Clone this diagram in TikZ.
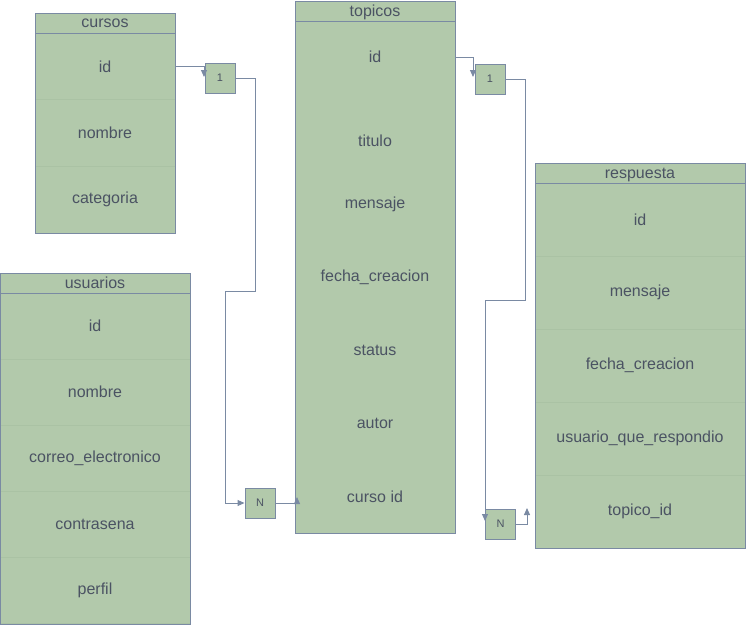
\documentclass[tikz,border=0pt]{standalone}
\usepackage{fontspec}
\setmainfont{Liberation Sans}
\usetikzlibrary{arrows.meta}

\definecolor{tblfill}{HTML}{B2C9AB}
\definecolor{tblline}{HTML}{7A8AA3}
\definecolor{tblsep}{HTML}{AAC2A4}
\definecolor{tbltext}{HTML}{4B5363}

\tikzset{
  header/.style={rectangle, draw=tblline, fill=tblfill, text=tbltext, inner sep=0pt, minimum height=20pt, text depth=-2pt},
  field/.style={rectangle, draw=tblsep, fill=tblfill, text=tbltext, inner sep=0pt},
  plain/.style={rectangle, text=tbltext, inner sep=0pt},
  border/.style={rectangle, draw=tblline, inner sep=0pt},
  card/.style={rectangle, draw=tblline, fill=tblfill, text=tbltext, inner sep=0pt, minimum size=30pt, font=\fontsize{11}{13}\selectfont},
  conn/.style={draw=tblline, line width=1pt, -{Triangle[length=7pt, width=6pt]}}
}

\begin{document}
\begin{tikzpicture}[x=1pt, y=-1pt, font=\fontsize{16}{19}\selectfont, line width=1pt]
    \useasboundingbox (0, 0) rectangle (746, 624);

    % cursos
    \fill[tblfill] (35, 13) rectangle (175, 233);
    \node[field, minimum width=140pt, minimum height=66.67pt] (cursos-id) at (105, 66.3) {id};
    \node[field, minimum width=140pt, minimum height=66.67pt] (cursos-nombre) at (105, 133) {nombre};
    \node[field, minimum width=140pt, minimum height=66.67pt] (cursos-categoria) at (105, 199.7) {categoria};
    \node[border, minimum width=140pt, minimum height=220pt] (cursos) at (105, 123) {};
    \node[header, minimum width=140pt] (cursos-head) at (105, 23) {cursos};

    % usuarios
    \fill[tblfill] (0, 273) rectangle (190, 624);
    \node[field, minimum width=190pt, minimum height=66pt] (usuarios-id) at (95, 326) {id};
    \node[field, minimum width=190pt, minimum height=66pt] (usuarios-nombre) at (95, 392) {nombre};
    \node[field, minimum width=190pt, minimum height=66pt] (usuarios-correo) at (95, 458) {correo\_electronico};
    \node[field, minimum width=190pt, minimum height=66pt] (usuarios-contrasena) at (95, 524) {contrasena};
    \node[field, minimum width=190pt, minimum height=66pt] (usuarios-perfil) at (95, 590) {perfil};
    \node[border, minimum width=190pt, minimum height=351pt] (usuarios) at (95, 448.5) {};
    \node[header, minimum width=190pt] (usuarios-head) at (95, 283) {usuarios};

    % topicos
    \node[border, fill=tblfill, minimum width=160pt, minimum height=532pt] (topicos) at (375, 267) {};
    \node[header, minimum width=160pt] (topicos-head) at (375, 11) {topicos};
    \node[plain] (topicos-id) at (375, 57) {id};
    \node[plain] (topicos-titulo) at (375, 141) {titulo};
    \node[plain] (topicos-mensaje) at (375, 204) {mensaje};
    \node[plain] (topicos-fecha) at (375, 277) {fecha\_creacion};
    \node[plain] (topicos-status) at (375, 350) {status};
    \node[plain] (topicos-autor) at (375, 423) {autor};
    \node[plain] (topicos-curso) at (375, 497) {curso id};

    % respuesta
    \fill[tblfill] (535, 163) rectangle (745, 548);
    \node[field, minimum width=210pt, minimum height=73pt] (respuesta-id) at (640, 219.5) {id};
    \node[field, minimum width=210pt, minimum height=73pt] (respuesta-mensaje) at (640, 292.5) {mensaje};
    \node[field, minimum width=210pt, minimum height=73pt] (respuesta-fecha) at (640, 365.5) {fecha\_creacion};
    \node[field, minimum width=210pt, minimum height=73pt] (respuesta-usuario) at (640, 438.5) {usuario\_que\_respondio};
    \node[field, minimum width=210pt, minimum height=73pt] (respuesta-topico) at (640, 511.5) {topico\_id};
    \node[border, minimum width=210pt, minimum height=385pt] (respuesta) at (640, 355.5) {};
    \node[header, minimum width=210pt] (respuesta-head) at (640, 173) {respuesta};

    % cardinalidades
    \node[card] (one1) at (220, 78) {1};
    \node[card] (many1) at (260, 503) {N};
    \node[card] (one2) at (490, 79) {1};
    \node[card] (many2) at (500.5, 524) {N};

    % cursos -> topicos
    \coordinate (tip1) at (204, 77);
    \coordinate (bend1) at (255, 291);
    \coordinate (bend2) at (225, 503);
    \coordinate (tip2) at (297, 497);
    \draw[conn] (cursos-id.east) -| (tip1);
    \draw[conn] (one1.east) -| (bend1) -| (bend2) -- (many1.west);
    \draw[conn] (many1.east) -| (tip2);

    % topicos -> respuesta
    \coordinate (start3) at (topicos.east |- topicos-id);
    \coordinate (tip3) at (473, 77);
    \coordinate (bend3) at (525, 300);
    \coordinate (tip4) at (485, 521);
    \coordinate (tip5) at (527, 508);
    \draw[conn] (start3) -| (tip3);
    \draw[conn] (one2.east) -| (bend3) -| (tip4);
    \draw[conn] (many2.east) -| (tip5);
\end{tikzpicture}
\end{document}
